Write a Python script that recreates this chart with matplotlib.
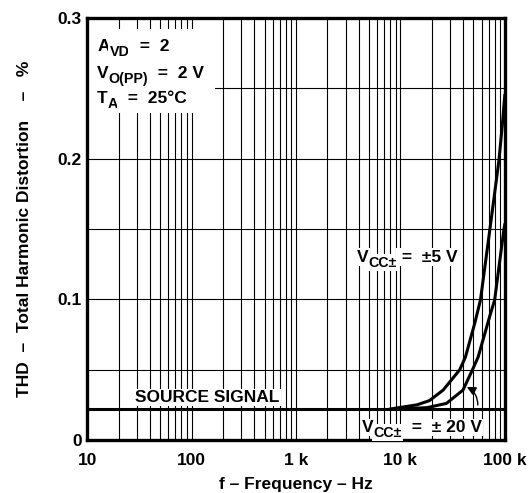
import matplotlib.pyplot as plt
from matplotlib.patches import Rectangle
from matplotlib.ticker import FixedLocator, NullFormatter

plt.rcParams['font.family'] = ['Liberation Sans', 'DejaVu Sans']
plt.rcParams['font.weight'] = 'bold'

# source signal level
src_freq = [10, 100000]
src_thd = [0.022, 0.022]

# VCC = +-5 V
f5 = [8000, 14400, 19000, 25700, 37100, 42000, 51600, 58500, 71800, 88000, 95000, 100000]
thd5 = [0.022, 0.025, 0.028, 0.0355, 0.050, 0.059, 0.083, 0.0995, 0.149, 0.199, 0.225, 0.245]

# VCC = +-20 V
f20 = [9000, 18000, 27600, 39800, 49100, 55600, 71800, 80000, 97800, 100000]
thd20 = [0.022, 0.023, 0.026, 0.0355, 0.050, 0.059, 0.088, 0.0995, 0.149, 0.153]

xticks = [10, 100, 1000, 10000, 100000]
xtick_labels = ['10', '100', '1 k', '10 k', '100 k']
yticks = [0, 0.1, 0.2, 0.3]
ytick_labels = ['0', '0.1', '0.2', '0.3']

FS = 12.5
box = dict(facecolor='white', edgecolor='none', pad=1.0)


def label(ax, x, y, parts):
    # parts: list of (text, is_subscript); chained so subscripts sit lower
    first = ax.text(x, y, parts[0][0], transform=ax.transAxes, fontsize=FS,
                    va='bottom', ha='left', bbox=box, zorder=4)
    prev = first
    for s, is_sub in parts[1:]:
        prev = ax.annotate(s, xy=(1, 0), xycoords=(prev, first),
                           xytext=(0, -3.5 if is_sub else 0), textcoords='offset points',
                           fontsize=FS * 0.82 if is_sub else FS,
                           va='bottom', ha='left', bbox=box, zorder=4)
    return first


fig = plt.figure(figsize=(5.28, 4.93), dpi=100)
ax = fig.add_axes([0.165, 0.1075, 0.791, 0.856])
ax.set_xscale('log')
ax.set_xlim(10, 100000)
ax.set_ylim(0, 0.3)

# grid
minor = [m * 10 ** d for d in range(1, 5) for m in range(2, 10)]
ax.xaxis.set_major_locator(FixedLocator(xticks))
ax.xaxis.set_minor_locator(FixedLocator(minor))
ax.xaxis.set_minor_formatter(NullFormatter())
ax.set_yticks([0.05, 0.15, 0.25], minor=True)
ax.grid(True, which='both', color='black', lw=0.8)
ax.set_axisbelow(True)

ax.set_xticks(xticks)
ax.set_xticklabels(xtick_labels, fontsize=FS, fontweight='bold')
ax.set_yticks(yticks)
ax.set_yticklabels(ytick_labels, fontsize=FS, fontweight='bold')
ax.tick_params(axis='x', which='both', length=0, pad=9)
ax.tick_params(axis='y', which='both', length=0, pad=4)

for s in ax.spines.values():
    s.set_linewidth(2.4)

# white area behind the conditions block
ax.add_patch(Rectangle((0.0, 0.775), 0.306, 0.2, transform=ax.transAxes,
                       facecolor='white', edgecolor='none', zorder=1))

ax.plot(src_freq, src_thd, color='black', lw=2.2, zorder=3)
ax.plot(f5, thd5, color='black', lw=2.2, zorder=3)
ax.plot(f20, thd20, color='black', lw=2.2, zorder=3)

label(ax, 0.024, 0.915, [('A', False), ('VD', True), ('  =  2', False)])
label(ax, 0.024, 0.851, [('V', False), ('O(PP)', True), ('  =  2 V', False)])
label(ax, 0.024, 0.791, [('T', False), ('A', True), ('  =  25°C', False)])

ax.text(0.115, 0.083, 'SOURCE SIGNAL', transform=ax.transAxes, fontsize=FS,
        va='bottom', ha='left', bbox=box, zorder=4)
label(ax, 0.646, 0.415, [('V', False), ('CC±', True), (' =  ±5 V', False)])
label(ax, 0.658, 0.012, [('V', False), ('CC±', True), ('  =  ± 20 V', False)])

ax.annotate('', xy=(43300, 0.0377), xytext=(55200, 0.0249),
            arrowprops=dict(arrowstyle='-|>', color='black', lw=1.0,
                            mutation_scale=13, shrinkA=0, shrinkB=0,
                            connectionstyle='arc3,rad=0.3'), zorder=5)

ax.set_xlabel('f – Frequency – Hz', fontsize=FS, fontweight='bold', labelpad=7)
ax.set_ylabel('THD  –  Total Harmonic Distortion    –   %', fontsize=FS,
              fontweight='bold', labelpad=18)

fig.savefig('out.png', dpi=100)
